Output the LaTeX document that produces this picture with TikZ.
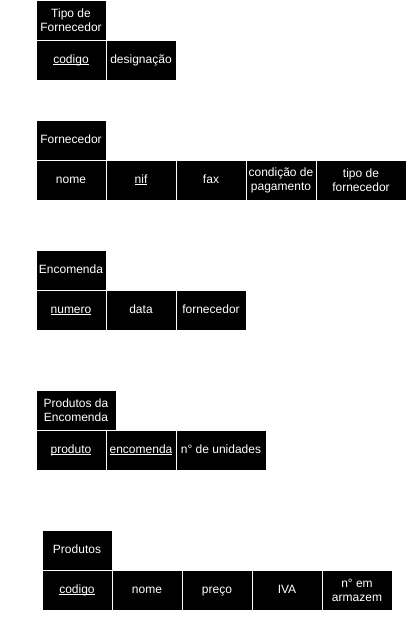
\documentclass[tikz,border=0pt]{standalone}
\usepackage{fontspec}
\setmainfont{Liberation Sans}
\usetikzlibrary{positioning}
\newcommand\ulk[1]{\sbox0{#1}\rlap{\rule[-2pt]{\wd0}{0.8pt}}\usebox0}

\begin{document}
\begin{tikzpicture}[x=1pt,y=-1pt,node distance=0pt,
  cell/.style={fill=black,draw=white,line width=1pt,text=white,outer sep=0pt,inner sep=0pt,minimum height=40pt,minimum width=70pt,align=center,font=\fontsize{12pt}{14pt}\selectfont},
  attr/.style={cell,text height=9pt,text depth=3pt},
  ent/.style={anchor=north west},
  wide/.style={minimum width=90pt}]
\useasboundingbox (0,0) rectangle (408,640);

\node[cell,ent] (tf) at (36,0) {Tipo de\\Fornecedor};
\node[attr] (tf1) [below right=0pt and 0pt of tf.south west] {\ulk{codigo}};
\node[attr] (tf2) [right=of tf1] {designação};

\node[attr,ent] (f) at (36,120) {Fornecedor};
\node[attr] (f1) [below right=0pt and 0pt of f.south west] {nome};
\node[attr] (f2) [right=of f1] {\ulk{nif}};
\node[attr] (f3) [right=of f2] {fax};
\node[cell] (f4) [right=of f3] {condição de\\pagamento};
\node[cell,wide] (f5) [right=of f4] {tipo de\\fornecedor};

\node[attr,ent] (e) at (36,250) {Encomenda};
\node[attr] (e1) [below right=0pt and 0pt of e.south west] {\ulk{numero}};
\node[attr] (e2) [right=of e1] {data};
\node[attr] (e3) [right=of e2] {fornecedor};

\node[cell,ent,minimum width=80pt] (pe) at (36,390) {Produtos da\\Encomenda};
\node[attr] (pe1) [below right=0pt and 0pt of pe.south west] {\ulk{produto}};
\node[attr] (pe2) [right=of pe1] {\ulk{encomenda}};
\node[attr,wide] (pe3) [right=of pe2] {n° de unidades};

\node[attr,ent] (p) at (42,530) {Produtos};
\node[attr] (p1) [below right=0pt and 0pt of p.south west] {\ulk{codigo}};
\node[attr] (p2) [right=of p1] {nome};
\node[attr] (p3) [right=of p2] {preço};
\node[attr] (p4) [right=of p3] {IVA};
\node[cell] (p5) [right=of p4] {n° em\\armazem};

\end{tikzpicture}
\end{document}
